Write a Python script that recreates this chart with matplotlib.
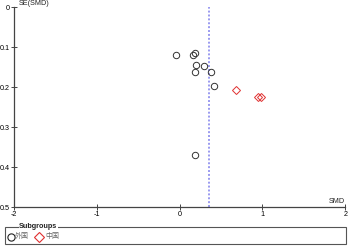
import matplotlib.pyplot as plt
from matplotlib.patches import Rectangle
from matplotlib.lines import Line2D

plt.rcParams['font.family'] = ['Liberation Sans', 'Noto Sans CJK SC', 'DejaVu Sans']

# 外国 studies
smd_foreign = [-0.04, 0.16, 0.19, 0.20, 0.30, 0.18, 0.375, 0.41, 0.19]
se_foreign = [0.120, 0.120, 0.116, 0.145, 0.148, 0.162, 0.162, 0.198, 0.370]
# 中国 studies
smd_china = [0.68, 0.95, 0.985]
se_china = [0.207, 0.225, 0.225]
pooled_smd = 0.355

groups = ['外国', '中国']
xticks = [-2, -1, 0, 1, 2]
yticks = [0, 0.1, 0.2, 0.3, 0.4, 0.5]

W, H = 349, 246
fig = plt.figure(figsize=(W / 100, H / 100), dpi=100)
ax = fig.add_axes([14 / W, 1 - 207 / H, (345.3 - 14) / W, 200 / H])

ax.axvline(pooled_smd, color='#9a9af0', linestyle=(0, (1, 1)), linewidth=1.4, zorder=1)
ax.plot(smd_foreign, se_foreign, 'o', mfc='none', mec='#333333', ms=4.6, mew=0.7, zorder=3)
ax.plot(smd_china, se_china, 'D', mfc='none', mec='#e03030', ms=4.2, mew=0.7, zorder=3)

ax.set_xlim(-2, 2)
ax.set_ylim(0.5, 0)
ax.set_xticks(xticks)
ax.set_xticklabels([str(t) for t in xticks])
ax.set_yticks(yticks)
ax.set_yticklabels(['0', '0.1', '0.2', '0.3', '0.4', '0.5'])
ax.tick_params(direction='inout', length=4, width=0.7, color='#444444',
               labelsize=5.2, pad=0.8)
for s in ['top', 'right']:
    ax.spines[s].set_visible(False)
for s in ['left', 'bottom']:
    ax.spines[s].set_color('#444444')
    ax.spines[s].set_linewidth(0.9)

ax.text((19 - 14) / (345.3 - 14), 1.0, 'SE(SMD)', transform=ax.transAxes,
        fontsize=5.2, ha='left', va='bottom', color='#222222')
ax.text(1.0, 0.01, 'SMD', transform=ax.transAxes,
        fontsize=5.2, ha='right', va='bottom', color='#222222')

# legend box
fig.patches.append(Rectangle((5.3 / W, 1 - 244 / H), (345.7 - 5.3) / W, (244 - 227) / H,
                             transform=fig.transFigure, fill=False,
                             edgecolor='#555555', linewidth=0.8))
fig.text(19 / W, 1 - 227 / H, 'Subgroups', fontsize=5.2, fontweight='bold',
         ha='left', va='center', color='#222222',
         bbox=dict(facecolor='white', edgecolor='none', pad=0.3))
ly = 1 - 236.5 / H
fig.lines.append(Line2D([10.5 / W], [ly], transform=fig.transFigure, marker='o',
                        mfc='none', mec='#222222', ms=5.2, mew=0.8))
fig.text(15 / W, ly, groups[0], fontsize=5, ha='left', va='center', color='#666666')
fig.lines.append(Line2D([39 / W], [ly], transform=fig.transFigure, marker='D',
                        mfc='none', mec='#e03030', ms=5.0, mew=0.8))
fig.text(45 / W, ly, groups[1], fontsize=5, ha='left', va='center', color='#666666')

fig.savefig('out.png', dpi=100)
